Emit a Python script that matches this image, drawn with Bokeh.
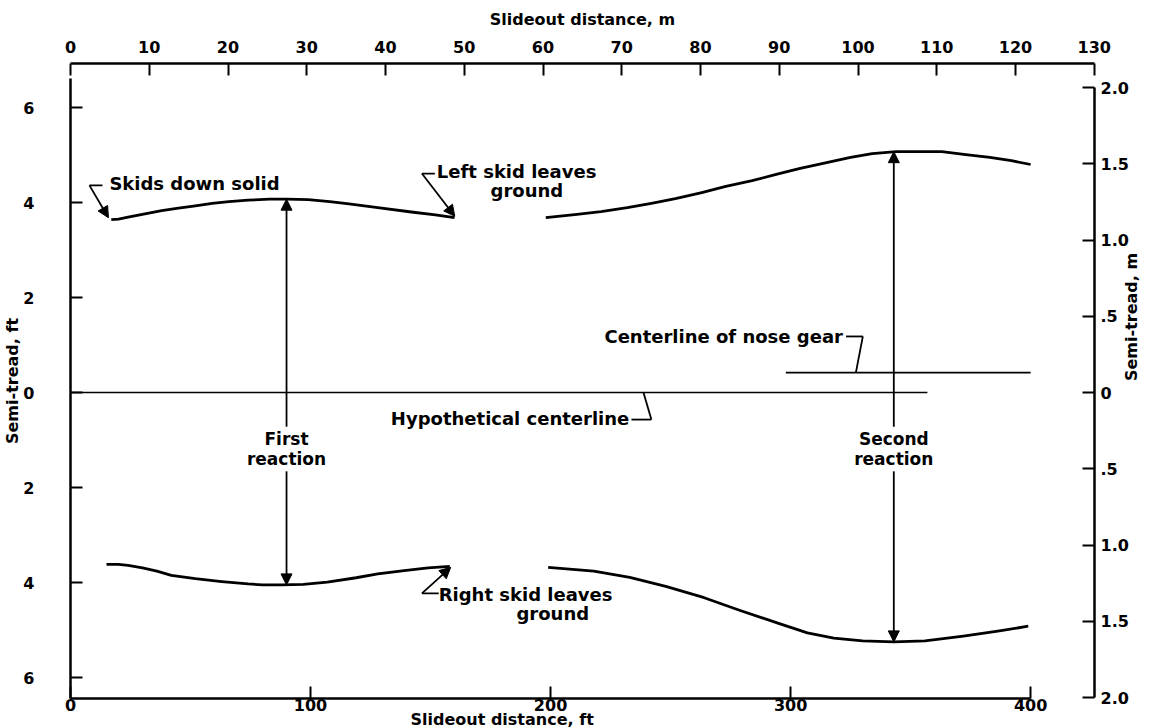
import math
from bokeh.plotting import figure
from bokeh.models import (Range1d, LinearAxis, FixedTicker, Title, Arrow, NormalHead,
                          CustomJSTickFormatter)
from bokeh.core.properties import value
from bokeh.embed import file_html
from bokeh.resources import INLINE

FONT = "DejaVu Sans"

# ---------------- data (slideout distance in ft, semi-tread in ft) ----------------
upper1_x = [17, 20, 24, 31, 38, 45, 52, 59, 66, 74, 83, 90, 99, 108, 116, 128, 142, 152, 160]
upper1_y = [3.64, 3.65, 3.69, 3.76, 3.83, 3.88, 3.93, 3.98, 4.02, 4.05, 4.07, 4.07, 4.06,
            4.02, 3.97, 3.89, 3.80, 3.74, 3.68]
lower1_x = [15, 20, 24, 30, 36, 42, 52, 63, 74, 80, 88, 97, 107, 119, 128, 139, 149, 158]
lower1_y = [-3.62, -3.62, -3.64, -3.69, -3.76, -3.85, -3.92, -3.98, -4.03, -4.05, -4.05,
            -4.04, -3.99, -3.90, -3.82, -3.75, -3.69, -3.66]
upper2_x = [198, 211, 221, 232, 242, 252, 263, 273, 284, 294, 304, 315, 325, 334, 344, 354,
            363, 373, 383, 392, 400]
upper2_y = [3.68, 3.75, 3.81, 3.89, 3.98, 4.08, 4.21, 4.34, 4.46, 4.59, 4.72, 4.84, 4.95,
            5.03, 5.07, 5.07, 5.07, 5.01, 4.95, 4.88, 4.80]
lower2_x = [199, 218, 233, 248, 264, 279, 295, 307, 318, 330, 343, 356, 372, 387, 399]
lower2_y = [-3.68, -3.76, -3.89, -4.08, -4.32, -4.59, -4.86, -5.06, -5.17, -5.23, -5.25,
            -5.23, -5.13, -5.02, -4.92]

hyp_x = [0, 357]
hyp_y = [0.0, 0.0]
nose_x = [298, 400]
nose_y = [0.42, 0.42]

reaction_x = [90, 343]
reaction_top = [4.07, 5.07]
reaction_bottom = [-4.05, -5.25]
reaction_names = ["First", "Second"]

# ticks
ft_ticks = [0, 100, 200, 300, 400]
m_ticks = list(range(0, 131, 10))
tread_ft_ticks = [-6, -4, -2, 0, 2, 4, 6]
tread_m_ticks = [-2, -1.5, -1, -0.5, 0, 0.5, 1, 1.5, 2]

# ---------------- layout ----------------
W, H = 1161, 728
FL, FR, FT, FB = 68, 1094, 63, 698          # frame edges in px
PX_PER_FT = 2.405
PX_PER_FT_Y = 47.5
ZERO_Y = 392
PX_PER_M_Y = 152.5

X_END = (FR - FL) / PX_PER_FT
Y_END = (ZERO_Y - FT) / PX_PER_FT_Y
Y_START = -(FB - ZERO_Y) / PX_PER_FT_Y
M_END = (ZERO_Y - FT) / PX_PER_M_Y
M_START = -(FB - ZERO_Y) / PX_PER_M_Y

p = figure(width=W, height=H,
           x_range=Range1d(0, X_END), y_range=Range1d(Y_START, Y_END),
           x_axis_location=None, y_axis_location=None,
           output_backend="svg", toolbar_location=None,
           min_border_left=FL, min_border_right=W - FR, min_border_top=FT,
           min_border_bottom=H - FB)
p.extra_x_ranges = {"m": Range1d(0, X_END * 0.3048)}
p.extra_y_ranges = {"mr": Range1d(M_START, M_END)}
p.grid.grid_line_color = None
p.outline_line_color = None
p.background_fill_color = "white"
p.border_fill_color = "white"

AX_FONT = "16px"


def style_axis(ax, standoff):
    ax.major_tick_in = 12
    ax.major_tick_out = 0
    ax.minor_tick_in = 0
    ax.minor_tick_out = 0
    ax.axis_line_width = 2.5
    ax.axis_line_color = "black"
    ax.major_tick_line_width = 2
    ax.major_tick_line_color = "black"
    ax.major_label_standoff = standoff
    ax.major_label_text_font = FONT
    ax.major_label_text_font_style = "bold"
    ax.major_label_text_font_size = AX_FONT
    ax.major_label_text_color = "black"
    ax.axis_label_text_font = FONT
    ax.axis_label_text_font_style = "bold"
    ax.axis_label_text_font_size = "16px"
    ax.axis_label_text_color = "black"


abs_fmt = CustomJSTickFormatter(code="return String(Math.abs(tick));")
m_fmt = CustomJSTickFormatter(code="""
const a = Math.abs(tick);
if (a == 0) return "0";
if (a == 0.5) return ".5";
return a.toFixed(1);
""")

top = LinearAxis(x_range_name="m", ticker=FixedTicker(ticks=m_ticks),
                 axis_label="Slideout distance, m", bounds=(0, 130))
style_axis(top, 11)
top.axis_label_standoff = 9
p.add_layout(top, "above")

bottom = LinearAxis(ticker=FixedTicker(ticks=ft_ticks), bounds=(0, 400))
style_axis(bottom, 0)
p.add_layout(bottom, "below")

left = LinearAxis(ticker=FixedTicker(ticks=tread_ft_ticks), formatter=abs_fmt,
                  axis_label="Semi-tread, ft", bounds=(Y_START, 6.61))
style_axis(left, 36)
left.axis_label_standoff = -2
p.add_layout(left, "left")

right = LinearAxis(y_range_name="mr", ticker=FixedTicker(ticks=tread_m_ticks),
                   formatter=m_fmt, axis_label="Semi-tread, m", bounds=(-2, 2))
style_axis(right, 6)
right.axis_label_standoff = 0
try:
    right.axis_label_orientation = math.pi / 2
except Exception:
    pass
p.add_layout(right, "right")

# bottom axis title
bt = Title(text="Slideout distance, ft", align="left", offset=340,
           text_font=FONT, text_font_style="bold", text_font_size="16px",
           text_color="black")
try:
    bt.vertical_align = "top"
    bt.standoff = -8
except Exception:
    pass
p.add_layout(bt, "below")

# ---------------- curves ----------------
for xs, ys in [(upper1_x, upper1_y), (lower1_x, lower1_y),
               (upper2_x, upper2_y), (lower2_x, lower2_y)]:
    p.line(xs, ys, line_width=2.8, line_color="black", line_join="round")

p.line(hyp_x, hyp_y, line_width=1.7, line_color="black")
p.line(nose_x, nose_y, line_width=1.7, line_color="black")

# ---------------- reaction arrows ----------------
GAP_TOP, GAP_BOT = -0.72, -1.66
for rx, rt, rb in zip(reaction_x, reaction_top, reaction_bottom):
    p.add_layout(Arrow(x_start=rx, y_start=GAP_TOP, x_end=rx, y_end=rt, line_width=1.8,
                       end=NormalHead(size=11, fill_color="black", line_color="black")))
    p.add_layout(Arrow(x_start=rx, y_start=GAP_BOT, x_end=rx, y_end=rb, line_width=1.8,
                       end=NormalHead(size=11, fill_color="black", line_color="black")))

TXT = dict(text_font=value(FONT), text_font_style="bold", text_font_size="18px",
           text_color="black", text_baseline="middle")
p.text(x=reaction_x + reaction_x, y=[-0.97, -0.97, -1.39, -1.39],
       text=reaction_names + ["reaction", "reaction"], text_align="center",
       **dict(TXT, text_font_size="17px"))

# ---------------- annotations: leaders ----------------
stub_x0 = [13.3, 151.8, 153.4, 323.1, 233.7]
stub_x1 = [7.9, 146.4, 146.4, 330.1, 242.0]
stub_y = [4.36, 4.61, -4.23, 1.18, -0.57]
p.segment(x0=stub_x0, y0=stub_y, x1=stub_x1, y1=stub_y, line_width=1.8, line_color="black")
tip_x = [15.8, 160.1, 158.4]
tip_y = [3.68, 3.71, -3.68]
for sx, sy, tx, ty in zip(stub_x1[:3], stub_y[:3], tip_x, tip_y):
    p.add_layout(Arrow(x_start=sx, y_start=sy, x_end=tx, y_end=ty, line_width=1.8,
                       end=NormalHead(size=11, fill_color="black", line_color="black")))
p.segment(x0=[330.1, 242.0], y0=[1.18, -0.57], x1=[327.2, 238.7], y1=[0.42, 0.0],
          line_width=1.8, line_color="black")

# ---------------- annotation texts ----------------
p.text(x=[16.2], y=[4.40], text=["Skids down solid"], text_align="left", **TXT)
p.text(x=[152.6], y=[4.65], text=["Left skid leaves"], text_align="left", **TXT)
p.text(x=[175.0], y=[4.25], text=["ground"], text_align="left", **TXT)
p.text(x=[153.4], y=[-4.25], text=["Right skid leaves"], text_align="left", **TXT)
p.text(x=[185.8], y=[-4.65], text=["ground"], text_align="left", **TXT)
p.text(x=[321.8], y=[1.18], text=["Centerline of nose gear"], text_align="right", **TXT)
p.text(x=[232.8], y=[-0.55], text=["Hypothetical centerline"], text_align="right", **TXT)

open("out.html", "w").write(file_html(p, INLINE))
